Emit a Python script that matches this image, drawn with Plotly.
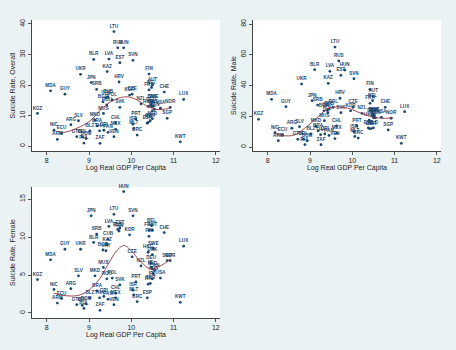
import plotly.graph_objects as go

countries = ["LTU","RUS","HUN","BLR","LVA","EST","SVN","KAZ","UKR","FIN","JPN","HRV","SRB","MDA","GUY",
             "AUT","BEL","FRA","CHE","LUX","KGZ","CUB","KOR","CZE","POL","URY","BGR","ROU","SVK","MUS",
             "CHL","SLV","ARG","NIC","ECU","ARM","MKD","BRA","BLZ","THA","CRI","PAN","MEX","VEN","ZAF",
             "GTM","COL","PHL","DOM","PRT","ISR","MLT","GRC","SGP","NOR","KWT","NZL","USA","ITA","ESP",
             "NLD","GBR","IRL","CAN","AUS","DEU","DNK","SWE","ISL","HKG"]
gdp = [9.59,9.68,9.82,9.11,9.47,9.73,10.04,9.43,8.80,10.42,9.05,9.71,9.18,8.09,8.43,
       10.50,10.48,10.42,10.78,11.24,7.78,9.45,9.96,10.02,9.55,9.40,9.33,9.42,9.73,9.34,
       9.63,8.75,8.57,8.17,8.35,8.25,9.14,9.19,9.02,9.25,9.35,9.45,9.63,9.59,9.26,
       8.71,8.84,8.88,8.93,10.11,10.04,10.06,10.14,10.85,10.92,11.16,10.23,10.69,10.40,10.38,
       10.50,10.45,10.50,10.55,10.52,10.47,10.50,10.52,10.48,10.40]
overall = [37.5,32.2,32.2,28.4,28.5,27.3,28.1,24.4,23.5,23.6,20.8,21.0,18.6,18.1,17.0,
           20.1,19.2,18.4,17.7,15.3,10.7,16.0,16.7,17.0,15.1,15.8,14.5,13.5,12.7,10.7,
           7.6,8.3,7.0,5.2,4.2,2.2,8.5,6.6,5.0,5.0,5.2,4.5,5.5,3.1,0.9,
           3.1,3.0,1.0,2.5,8.9,7.2,5.8,3.6,9.1,12.7,1.4,13.8,12.4,7.8,7.5,
           9.0,8.3,11.5,12.0,13.0,13.5,14.5,14.5,13.0,13.0]
male = [65.0,56.0,50.0,50.3,49.2,46.6,44.4,41.4,40.9,37.5,30.1,31.7,27.3,31.0,26.2,
        33.0,30.1,28.4,25.8,23.0,18.0,24.5,23.5,25.8,25.8,24.0,23.5,22.5,22.3,17.1,
        13.7,13.2,12.2,9.3,7.8,4.1,13.5,10.5,8.5,8.0,8.5,7.5,9.0,5.5,1.5,
        5.0,5.0,1.6,4.0,13.7,10.0,6.9,5.8,11.1,18.7,2.4,21.9,19.3,12.0,12.5,
        12.5,12.0,19.0,19.0,20.0,20.5,21.0,21.0,20.5,17.5]
female = [13.0,11.0,16.0,9.3,11.4,11.2,12.8,9.0,8.4,10.1,12.8,10.8,10.4,7.0,8.4,
          10.9,11.5,10.9,10.6,8.8,4.4,9.7,10.3,7.4,4.6,8.2,8.3,4.5,3.7,6.0,
          2.6,4.9,3.2,3.1,1.9,1.3,4.9,2.9,2.0,2.0,2.2,1.8,2.0,1.1,0.35,
          1.1,1.0,0.6,1.2,4.1,3.0,2.4,1.5,6.9,6.9,1.4,6.2,4.6,3.8,2.0,
          5.8,3.9,4.5,5.6,5.2,6.6,7.7,8.5,6.0,8.0]

fit_overall_x = [8.21,8.41,8.72,9.00,9.27,9.51,9.75,9.94,10.14,10.37,10.61,10.88,10.95]
fit_overall_y = [4.9,4.5,5.9,8.0,11.8,14.5,15.9,16.1,15.1,13.1,12.0,12.3,12.6]
fit_male_x = [8.16,8.35,8.63,8.87,9.19,9.42,9.66,9.93,10.21,10.52,10.84,10.96]
fit_male_y = [8.9,7.4,7.8,12.1,19.6,25.0,26.1,25.0,21.9,19.3,18.7,19.3]
fit_female_x = [8.17,8.41,8.73,8.97,9.25,9.51,9.67,9.83,9.98,10.22,10.46,10.69,10.93]
fit_female_y = [2.6,2.3,2.3,2.9,4.5,7.0,8.3,8.9,8.3,6.8,5.8,6.2,7.1]

NAVY = "#1A476F"
RED = "#90353B"
BG = "#EAF2F3"
FONT = "Liberation Sans"

W, H = 456, 350
panels = [
    dict(yvals=overall, fx=fit_overall_x, fy=fit_overall_y, ytitle="Suicide Rate, Overall",
         xdom=(32, 220), ydom=(20, 151), yrange=[-1.6, 41.3], ytick=[0, 10, 20, 30, 40]),
    dict(yvals=male, fx=fit_male_x, fy=fit_male_y, ytitle="Suicide Rate, Male",
         xdom=(253, 441), ydom=(20, 151), yrange=[-2.6, 82.6], ytick=[0, 20, 40, 60, 80]),
    dict(yvals=female, fx=fit_female_x, fy=fit_female_y, ytitle="Suicide Rate, Female",
         xdom=(32, 220), ydom=(187, 318), yrange=[-0.66, 16.6], ytick=[0, 5, 10, 15]),
]

fig = go.Figure()
layout = {}
for i, p in enumerate(panels, start=1):
    sfx = "" if i == 1 else str(i)
    xa, ya = "x" + sfx, "y" + sfx
    fig.add_trace(go.Scatter(
        x=gdp, y=p["yvals"], mode="markers+text", text=countries,
        textposition="top center", cliponaxis=False,
        textfont=dict(family=FONT, size=4.6, color=NAVY, weight="bold"),
        marker=dict(size=2.8, color=NAVY, line=dict(width=0)),
        xaxis=xa, yaxis=ya, showlegend=False, hoverinfo="skip"))
    fig.add_trace(go.Scatter(
        x=p["fx"], y=p["fy"], mode="lines", line=dict(color=RED, width=0.9, shape="spline"),
        xaxis=xa, yaxis=ya, showlegend=False, hoverinfo="skip"))
    layout["xaxis" + sfx] = dict(
        domain=[p["xdom"][0] / W, p["xdom"][1] / W], anchor=ya, range=[7.65, 12.1],
        tickvals=[8, 9, 10, 11, 12], ticks="outside", ticklen=3, tickcolor="#555", tickwidth=0.8,
        showline=True, linecolor="#444", linewidth=0.8, showgrid=False, zeroline=False,
        tickfont=dict(family=FONT, size=7, color="#222"),
        title=dict(text="Log Real GDP Per Capita", font=dict(family=FONT, size=7, color="#222"), standoff=1))
    layout["yaxis" + sfx] = dict(
        domain=[1 - p["ydom"][1] / H, 1 - p["ydom"][0] / H], anchor=xa, range=p["yrange"],
        tickvals=p["ytick"], ticks="outside", ticklen=3, tickcolor="#555", tickwidth=0.8, tickangle=-90,
        showline=True, linecolor="#444", linewidth=0.8, showgrid=False, zeroline=False,
        tickfont=dict(family=FONT, size=7, color="#222"),
        title=dict(text=p["ytitle"], font=dict(family=FONT, size=7, color="#222"), standoff=2))

shapes = []
for p in panels:
    shapes.append(dict(type="rect", xref="paper", yref="paper", layer="below",
                       x0=p["xdom"][0] / W, x1=p["xdom"][1] / W,
                       y0=1 - p["ydom"][1] / H, y1=1 - p["ydom"][0] / H,
                       fillcolor="white", line=dict(width=0)))

fig.update_layout(width=W, height=H, margin=dict(l=0, r=0, t=0, b=0),
                  paper_bgcolor=BG, plot_bgcolor="white", shapes=shapes, **layout)
fig.write_html("out.html")
